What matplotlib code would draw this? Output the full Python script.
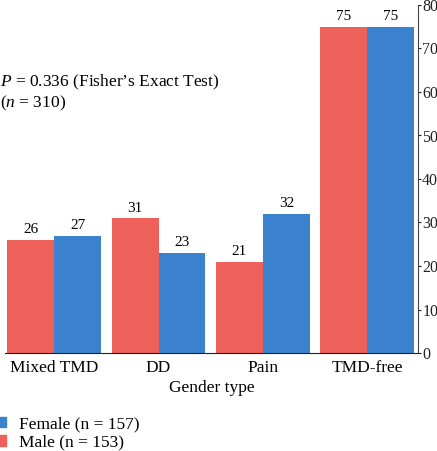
import matplotlib
matplotlib.use("Agg")
import matplotlib.pyplot as plt
from matplotlib.patches import Patch
import numpy as np

categories = ["Mixed TMD", "DD", "Pain", "TMD-free"]
male = [26, 31, 21, 75]
female = [27, 23, 32, 75]
yticks = [0, 10, 20, 30, 40, 50, 60, 70, 80]

red = "#EE605A"
blue = "#3A82CE"

plt.rcParams['font.family'] = ['Liberation Serif', 'DejaVu Serif']
plt.rcParams['mathtext.fontset'] = 'custom'
plt.rcParams['mathtext.it'] = 'Liberation Serif:italic'
plt.rcParams['mathtext.rm'] = 'Liberation Serif'

fig = plt.figure(figsize=(4.37, 4.51), dpi=100)
ax = fig.add_axes([5/437, (451-353)/451, (418-5)/437, (353-5)/451])

x = np.arange(len(categories))
w = 0.45
b1 = ax.bar(x - w/2, male, w, color=red)
b2 = ax.bar(x + w/2, female, w, color=blue)
for bars in (b1, b2):
    for r in bars:
        ax.text(r.get_x() + r.get_width()/2, r.get_height() + 0.8, f"{int(r.get_height())}",
                ha='center', va='bottom', fontsize=11)

ax.set_xlim(-0.47, 3.485)
ax.set_ylim(0, 80)
ax.set_yticks(yticks)
ax.yaxis.tick_right()
ax.spines['left'].set_visible(False)
ax.spines['top'].set_visible(False)
ax.spines['right'].set_color('#444444')
ax.spines['bottom'].set_color('#222222')
ax.tick_params(axis='y', direction='out', length=2, labelsize=11.5, pad=1, colors='#222222')
ax.tick_params(axis='x', length=0, labelsize=12.5, pad=5)
ax.set_xticks(x)
ax.set_xticklabels(categories)
ax.set_xlabel("Gender type", fontsize=12.5, labelpad=3)

fig.text(0.0, 1 - 82/451, r"$P$ = 0.336 (Fisher’s Exact Test)", fontsize=12.5, va='center', ha='left')
fig.text(0.0, 1 - 103/451, r"($n$ = 310)", fontsize=12.5, va='center', ha='left')

handles = [Patch(color=blue, label="Female (n = 157)"), Patch(color=red, label="Male (n = 153)")]
fig.legend(handles=handles, loc='upper left', bbox_to_anchor=(-0.035, 1 - 404/451), frameon=False,
           fontsize=12.5, handlelength=0.55, handleheight=0.55, handletextpad=0.7, labelspacing=0.15,
           borderpad=0.2)

fig.savefig("out.png", dpi=100)
